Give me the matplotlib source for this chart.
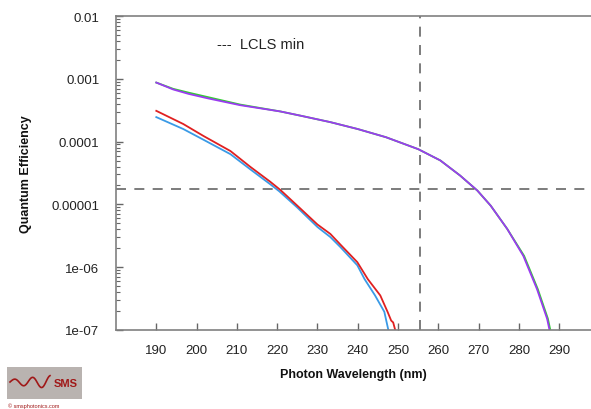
import numpy as np
import matplotlib
matplotlib.use("Agg")
import matplotlib.pyplot as plt
from matplotlib.ticker import LogLocator, FixedLocator, FixedFormatter, NullFormatter
from matplotlib.patches import Rectangle

plt.rcParams['font.family'] = ['Liberation Sans', 'DejaVu Sans']

# Data (log10 of quantum efficiency)
wl_purple = [190, 194.2, 198, 202.7, 210.8, 220.8, 226, 233.2, 240, 247, 255, 260.5, 265.4, 269.7, 273, 277.1, 281.1, 284.5, 287, 287.6]
log_purple = [-3.06, -3.17, -3.24, -3.31, -3.42, -3.52, -3.59, -3.69, -3.80, -3.93, -4.12, -4.30, -4.54, -4.78, -5.02, -5.39, -5.82, -6.35, -6.82, -7.0]
wl_green = [190, 194.2, 198, 202.7, 210.8, 220.8, 226, 233.2, 240, 247, 255, 260.5, 265.4, 269.7, 273, 277.1, 281.3, 284.7, 287.2, 287.8]
log_green = [-3.06, -3.16, -3.22, -3.29, -3.41, -3.52, -3.59, -3.69, -3.80, -3.93, -4.12, -4.30, -4.54, -4.78, -5.02, -5.39, -5.82, -6.35, -6.82, -7.0]

wl_red = [190, 196.7, 201.7, 208.4, 213.3, 218.3, 220.8, 225, 230, 233.2, 235.7, 239.9, 242.5, 245.6, 247.4, 248.3, 248.8, 249.3]
log_red = [-3.51, -3.72, -3.91, -4.15, -4.40, -4.64, -4.77, -5.02, -5.32, -5.47, -5.64, -5.92, -6.19, -6.45, -6.71, -6.85, -6.88, -7.0]
wl_blue = [190, 196.7, 201.7, 208.4, 213.3, 218.3, 220.5, 225, 230, 233.2, 235.7, 239.9, 241.7, 244.3, 246.6, 247.6]
log_blue = [-3.61, -3.80, -3.97, -4.20, -4.44, -4.68, -4.79, -5.05, -5.36, -5.52, -5.68, -5.97, -6.19, -6.45, -6.71, -7.0]

lcls_min_qe = 1.76e-5
lcls_min_wl = 255.4

x_ticks = [190, 200, 210, 220, 230, 240, 250, 260, 270, 280, 290]
y_ticks = [1e-7, 1e-6, 1e-5, 1e-4, 1e-3, 1e-2]
y_labels = ['1e-07', '1e-06', '0.00001', '0.0001', '0.001', '0.01']

fig = plt.figure(figsize=(5.91, 4.10), dpi=100)
ax = fig.add_axes([116/591, 79/410, 475/591, 314/410])

ax.plot(wl_green, 10**np.array(log_green), color='#33cc33', lw=1.3)
ax.plot(wl_purple, 10**np.array(log_purple), color='#9a3cf0', lw=1.3)
ax.plot(wl_blue, 10**np.array(log_blue), color='#3a9ae6', lw=1.3)
ax.plot(wl_red, 10**np.array(log_red), color='#e02020', lw=1.3)

ax.axhline(lcls_min_qe, color='#666666', lw=1.2, dashes=(6, 5))
ax.axvline(lcls_min_wl, color='#666666', lw=1.2, dashes=(6, 5))

ax.set_yscale('log')
ax.set_xlim(180, 297.9)
ax.set_ylim(1e-7, 1e-2)

ax.xaxis.set_major_locator(FixedLocator(x_ticks))
ax.yaxis.set_major_locator(FixedLocator(y_ticks))
ax.yaxis.set_major_formatter(FixedFormatter(y_labels))
ax.yaxis.set_minor_locator(LogLocator(base=10, subs=np.arange(2, 10), numticks=20))
ax.yaxis.set_minor_formatter(NullFormatter())

ax.tick_params(axis='both', which='major', direction='in', length=5, width=1, color='#666666',
               labelsize=9.5, labelcolor='#222222')
ax.tick_params(axis='x', pad=10)
ax.tick_params(axis='y', pad=12)
ax.tick_params(axis='y', which='minor', direction='in', length=3, width=0.8, color='#666666')
ax.tick_params(top=False, right=False)

for s in ['left', 'bottom', 'top']:
    ax.spines[s].set_color('#808080')
    ax.spines[s].set_linewidth(1.2)
ax.spines['right'].set_visible(False)

ax.set_xlabel('Photon Wavelength (nm)', fontsize=9, fontweight='bold', labelpad=9, color='#111111')
ax.set_ylabel('Quantum Efficiency', fontsize=9, fontweight='bold', labelpad=14, color='#111111')

ax.text(0.213, 0.912, '---  LCLS min', transform=ax.transAxes, fontsize=10.5, color='#222222',
        va='center', ha='left')

# Logo
fig.patches.append(Rectangle((7/591, 10/410), 75/591, 32/410, transform=fig.transFigure,
                             facecolor='#b9b3b0', edgecolor='none'))
t = np.linspace(0, 1, 60)
wx = (10 + 40 * t) / 591
wy = (27 + 4 * np.sin(t * 14) * (0.6 + t)) / 410
fig.lines.append(plt.Line2D(wx, wy, transform=fig.transFigure, color='#a01818', lw=1.2))
fig.text(66/591, 26/410, 'SMS', fontsize=8, fontweight='bold', color='#a01818', ha='center', va='center')
fig.text(8/591, 4/410, '© smsphotonics.com', fontsize=4, color='#a01818', ha='left', va='center')

fig.savefig('out.png', dpi=100)
